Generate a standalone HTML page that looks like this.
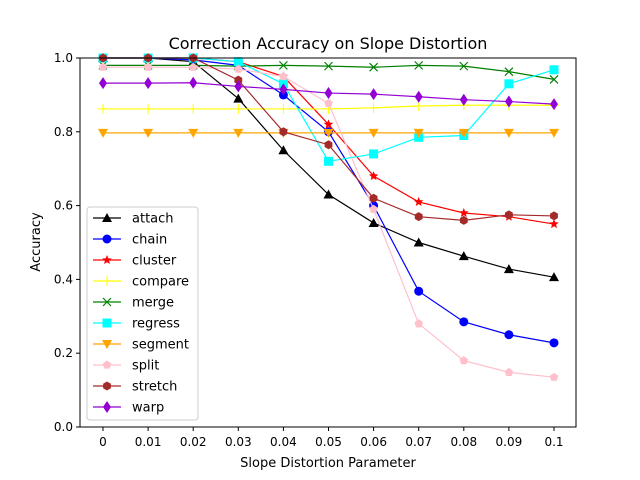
<!DOCTYPE html>
<html><head><meta charset="utf-8"><style>body{margin:0;background:#fff}svg{display:block;font-family:"DejaVu Sans","Liberation Sans",sans-serif}</style></head>
<body>
<svg id="chart" width="640" height="480" xmlns="http://www.w3.org/2000/svg">
<rect width="640" height="480" fill="#fff"/>
<text x="328" y="49" font-size="16" text-anchor="middle">Correction Accuracy on Slope Distortion</text>
<text x="328" y="467" font-size="13" text-anchor="middle">Slope Distortion Parameter</text>
<text x="40" y="242" font-size="13" text-anchor="middle" transform="rotate(-90 40 242)">Accuracy</text>
<g id="ticks"></g><g id="series"></g>
<rect x="80" y="58" width="496" height="369" fill="none" stroke="#000" stroke-width="1"/>
<g id="legend"></g>
</svg>
<script>
const xLabels=["0","0.01","0.02","0.03","0.04","0.05","0.06","0.07","0.08","0.09","0.1"];
const yTicks=[0,0.2,0.4,0.6,0.8,1.0];
const yTickLabels=["0.0","0.2","0.4","0.6","0.8","1.0"];
const seriesNames=["attach","chain","cluster","compare","merge","regress","segment","split","stretch","warp"];
const attach=[1.0,1.0,0.99,0.89,0.75,0.63,0.553,0.50,0.463,0.428,0.406];
const chain=[1.0,1.0,0.995,0.98,0.90,0.80,0.60,0.368,0.285,0.25,0.228];
const cluster=[1.0,1.0,1.0,0.99,0.95,0.82,0.68,0.61,0.58,0.57,0.55];
const compare=[0.862,0.862,0.862,0.862,0.862,0.862,0.865,0.87,0.872,0.872,0.872];
const merge=[0.98,0.98,0.98,0.978,0.98,0.978,0.975,0.98,0.978,0.963,0.942];
const regress=[1.0,1.0,1.0,0.99,0.93,0.72,0.74,0.785,0.79,0.93,0.968];
const segment=[0.797,0.797,0.797,0.797,0.797,0.797,0.797,0.797,0.797,0.797,0.797];
const split=[0.975,0.975,0.975,0.97,0.95,0.877,0.59,0.28,0.18,0.148,0.135];
const stretch=[1.0,1.0,1.0,0.94,0.80,0.765,0.62,0.57,0.56,0.575,0.572];
const warp=[0.932,0.932,0.933,0.923,0.915,0.905,0.902,0.895,0.887,0.882,0.875];
const allData=[attach,chain,cluster,compare,merge,regress,segment,split,stretch,warp];
const colors=["black","blue","red","yellow","green","cyan","orange","pink","brown","darkviolet"];
const markers=["triUp","circle","star","plus","x","square","triDown","pent","hex","diamond"];
const NS="http://www.w3.org/2000/svg";
const xs=i=>103+i*(554-103)/(xLabels.length-1);
const ys=v=>427-v*369;
function mk(tag,at,parent){const e=document.createElementNS(NS,tag);for(const k in at)e.setAttribute(k,at[k]);parent.appendChild(e);return e;}
function marker(type,x,y,c,g){
 let e;const r=4.5;
 if(type==="circle")e=mk("circle",{cx:x,cy:y,r:r},g);
 else if(type==="square")e=mk("rect",{x:x-4.5,y:y-4.5,width:9,height:9},g);
 else if(type==="triUp")e=mk("polygon",{points:`${x},${y-5} ${x-5},${y+4} ${x+5},${y+4}`},g);
 else if(type==="triDown")e=mk("polygon",{points:`${x},${y+5} ${x-5},${y-4} ${x+5},${y-4}`},g);
 else if(type==="diamond")e=mk("polygon",{points:`${x},${y-6} ${x+4},${y} ${x},${y+6} ${x-4},${y}`},g);
 else if(type==="plus")e=mk("path",{d:`M${x-5} ${y}H${x+5}M${x} ${y-5}V${y+5}`,stroke:c,"stroke-width":1,fill:"none"},g);
 else if(type==="x")e=mk("path",{d:`M${x-4} ${y-4}L${x+4} ${y+4}M${x-4} ${y+4}L${x+4} ${y-4}`,stroke:c,"stroke-width":1.2,fill:"none"},g);
 else{const n=type==="star"?10:(type==="pent"?5:6);let p=[];for(let k=0;k<n;k++){const a=-Math.PI/2+k*2*Math.PI/n;const rr=type==="star"?(k%2?2.2:5):r;p.push((x+rr*Math.cos(a)).toFixed(2)+","+(y+rr*Math.sin(a)).toFixed(2));}e=mk("polygon",{points:p.join(" ")},g);}
 if(type!=="plus"&&type!=="x")e.setAttribute("fill",c);
 
 
}
const tg=document.getElementById("ticks");
xLabels.forEach((l,i)=>{mk("line",{x1:xs(i),x2:xs(i),y1:427,y2:431,stroke:"#000"},tg);const t=mk("text",{x:xs(i),y:446,"font-size":12,"text-anchor":"middle"},tg);t.textContent=l;

});
yTicks.forEach((v,i)=>{mk("line",{x1:76,x2:80,y1:ys(v),y2:ys(v),stroke:"#000"},tg);const t=mk("text",{x:73,y:ys(v)+4,"font-size":12,"text-anchor":"end"},tg);t.textContent=yTickLabels[i];

});
const sg=document.getElementById("series");
allData.forEach((d,s)=>{const g=mk("g",{},sg);


mk("polyline",{points:d.map((v,i)=>xs(i)+","+ys(v)).join(" "),fill:"none",stroke:colors[s],"stroke-width":1.2},g);
d.forEach((v,i)=>marker(markers[s],xs(i),ys(v),colors[s],g));});
const lg=document.getElementById("legend");
const box=mk("rect",{x:87,y:207,width:111,height:213,rx:3,fill:"#fff","fill-opacity":0.8,stroke:"#ccc"},lg);


seriesNames.forEach((n,s)=>{const y=218+s*21;const g=mk("g",{},lg);


mk("line",{x1:93,x2:121,y1:y,y2:y,stroke:colors[s],"stroke-width":1.2},g);marker(markers[s],107,y,colors[s],g);
const t=mk("text",{x:132,y:y+4.5,"font-size":13},g);t.textContent=n;});
</script>
</body></html>
